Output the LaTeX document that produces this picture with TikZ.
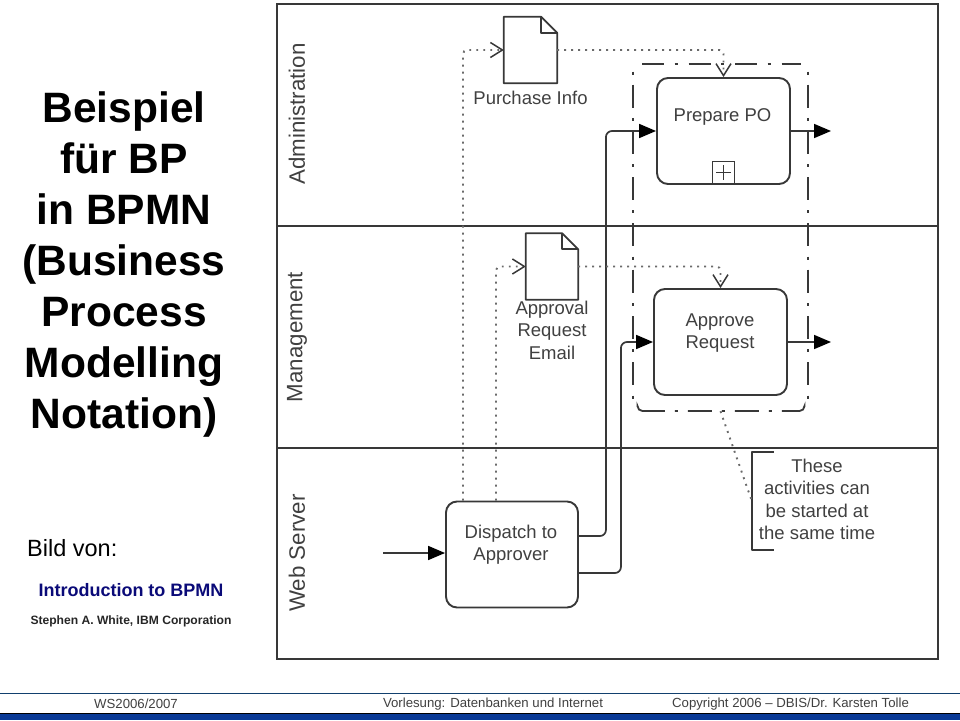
\documentclass[tikz,border=0pt]{standalone}
\usepackage{fontspec}
\setmainfont{Liberation Sans}
\usepackage{xcolor}
\usetikzlibrary{arrows.meta, positioning, calc}
\definecolor{LineGray}{HTML}{383838}
\definecolor{TextGray}{HTML}{404040}
\definecolor{DotGray}{HTML}{6A6A6A}
\definecolor{TitleNavy}{HTML}{0A0A78}
\definecolor{BarBlue}{HTML}{0A3A96}
\definecolor{RuleBlue}{HTML}{12406E}
\newcommand{\fs}[2]{\fontsize{#1}{#2}\selectfont}
\tikzset{
    lane/.style={draw=LineGray, line width=2.2pt},
    lanelabel/.style={rotate=90, text=TextGray, font=\fs{22.3}{24}},
    task/.style={draw=LineGray, line width=1.9pt, rounded corners=11pt, fill=white,
                 minimum width=#1, minimum height=106pt, inner sep=0pt},
    tasktext/.style={text=TextGray, font=\fs{18.5}{22.5}, align=center, inner sep=0pt},
    docnode/.style={minimum width=#1, minimum height=66pt, inner sep=0pt},
    docline/.style={draw=LineGray, line width=1.8pt, line join=round},
    doctext/.style={text=TextGray, font=\fs{18.5}{22.5}, align=center, inner sep=0pt},
    seqflow/.style={draw=LineGray, line width=1.7pt, rounded corners=6pt,
                    -{Triangle[length=17pt, width=14pt, fill=black, color=black]}},
    msgdots/.style={draw=DotGray, line width=1.9pt, rounded corners=4pt,
                    dash pattern=on 1.9pt off 5.1pt},
    msgflow/.style={msgdots,
                    -{Straight Barb[length=12pt, width=15pt, line width=1.5pt, color=LineGray]}},
    groupline/.style={draw=LineGray, line width=1.8pt, rounded corners=5pt},
    footer/.style={text=TextGray, font=\fs{13.2}{15}, inner sep=0pt},
    titlepart/.style={font=\bfseries\fs{42.5}{51}, align=center, inner sep=0pt}
}
\begin{document}
\begin{tikzpicture}[x=1pt, y=-1pt]
    \useasboundingbox (0,0) rectangle (960,720);

    % The three lanes
    \foreach \top/\bot/\mid/\lab in {4/226/114/Administration, 226/448/337/Management, 448/659/553/Web Server} {
        \draw[lane] (277,\top) rectangle (938,\bot);
        \node[lanelabel] at (297,\mid) {\lab};
    }

    % Text on the left
    \node[titlepart] (title) at (124,265) {Beispiel\\für BP\\in BPMN\\(Business\\Process\\Modelling\\Notation)};
    \node[anchor=west, inner sep=0pt, font=\fs{23.5}{26}] (bild) at (27,548) {Bild von:};
    \node[inner sep=0pt, text=TitleNavy, font=\bfseries\fs{18}{20}] (intro) at (131,590) {Introduction to BPMN};
    \node[inner sep=0pt, text=black!85, font=\bfseries\fs{12.1}{14}] (author) at (131,621) {Stephen A. White, IBM Corporation};

    % Group round the two activities, each side with its own dashes
    \node[minimum width=175pt, minimum height=347pt, inner sep=0pt] (group) at (720.5,237.5) {};
    \draw[groupline, dash pattern=on 22pt off 10.5pt on 3pt off 11pt] (642,64) -- (801,64);
    \foreach \x in {633,808} {
        \draw[groupline, dash pattern=on 3pt off 10pt on 23pt off 10.3pt] (\x,71.5) -- (\x,398.5);
    }
    \draw[groupline, dash pattern=on 31pt off 10pt on 3pt off 10pt on 24pt off 10pt on 3pt off 10pt
          on 24pt off 10pt on 3pt off 10pt on 31pt] (637.5,407) |- (804.5,411) -- (804.5,407);

    % Activities
    \node[task=133pt] (prepare) at (723.5,131) {};
    \node[task=133pt] (approve) at (720.5,342) {};
    \node[task=132pt] (dispatch) at (512,554.5) {};
    \node[tasktext] (preparetext) at (722.5,117) {Prepare PO};
    \node[tasktext] (approvetext) at (720,333) {Approve\\Request};
    \node[tasktext] (dispatchtext) at (511,544.5) {Dispatch to\\Approver};

    % Sub-process marker
    \node[draw=LineGray, line width=1.9pt, fill=white, minimum size=22pt, inner sep=0pt] (marker) at (723.5,172.5) {};
    \draw[LineGray, line width=1.2pt] ($(marker.center)+(-7.5,0)$) -- ($(marker.center)+(7.5,0)$);
    \draw[LineGray, line width=1.2pt] ($(marker.center)+(0,-7.5)$) -- ($(marker.center)+(0,7.5)$);

    % Data objects
    \node[docnode=53pt] (purchase) at (530.5,50) {};
    \node[docnode=52pt] (approval) at (552,266.5) {};
    \foreach \doc in {purchase, approval} {
        \draw[docline, fill=white]
            (\doc.north west) -- ($(\doc.north east)+(-16,0)$) -- ($(\doc.north east)+(0,16)$)
            -- (\doc.south east) -- (\doc.south west) -- cycle;
        \draw[docline]
            ($(\doc.north east)+(-16,0)$) -- ($(\doc.north east)+(-16,16)$) -- ($(\doc.north east)+(0,16)$);
    }
    \node[doctext, below=8pt of purchase] (purchasetext) {Purchase Info};
    \node[doctext, below=1pt of approval] (approvaltext) {Approval\\Request\\Email};

    % Sequence flows
    \coordinate (start) at (383,553);
    \coordinate (prepareout) at (831,131);
    \coordinate (approveout) at (831,342);
    \draw[seqflow] (start) -- (start -| dispatch.west);
    \draw[seqflow] ([yshift=18.5pt]dispatch.east) -- ++(27,0) |- (prepare.west);
    \draw[seqflow] ([yshift=-18.5pt]dispatch.east) -- ++(42,0) |- (approve.west);
    \draw[seqflow] (prepare.east) -- (prepareout);
    \draw[seqflow] (approve.east) -- (approveout);

    % Message flows
    \draw[msgflow] ([xshift=-49pt]dispatch.north) |- (purchase.west);
    \draw[msgflow] ([xshift=-16pt]dispatch.north) |- (approval.west);
    \draw[msgflow] (purchase.east) -| (prepare.north);
    \draw[msgflow] (approval.east) -| (approve.north);

    % Annotation
    \node[minimum width=130pt, minimum height=98pt, inner sep=0pt] (note) at (817,501) {};
    \node[text=TextGray, font=\fs{18.5}{22.4}, align=center, inner sep=0pt] (notetext) at (817,499.5)
        {These\\activities can\\be started at\\the same time};
    \draw[docline] ([xshift=22pt]note.north west) -- (note.north west)
        -- (note.south west) -- ([xshift=22pt]note.south west);
    \draw[msgdots] (group.south) -- (note.west);

    % Footer
    \draw[RuleBlue, line width=1pt] (0,693) -- (960,693);
    \node[footer] (term) at (136,704) {WS2006/2007};
    \node[footer] (lecture) at (493,704) {Vorlesung: Datenbanken und Internet};
    \node[footer] (copyright) at (790.5,704) {Copyright 2006 – DBIS/Dr. Karsten Tolle};
    \fill[BarBlue] (0,713) rectangle (960,720);
    \draw[black, line width=1pt] (0,713) -- (960,713);
\end{tikzpicture}
\end{document}
